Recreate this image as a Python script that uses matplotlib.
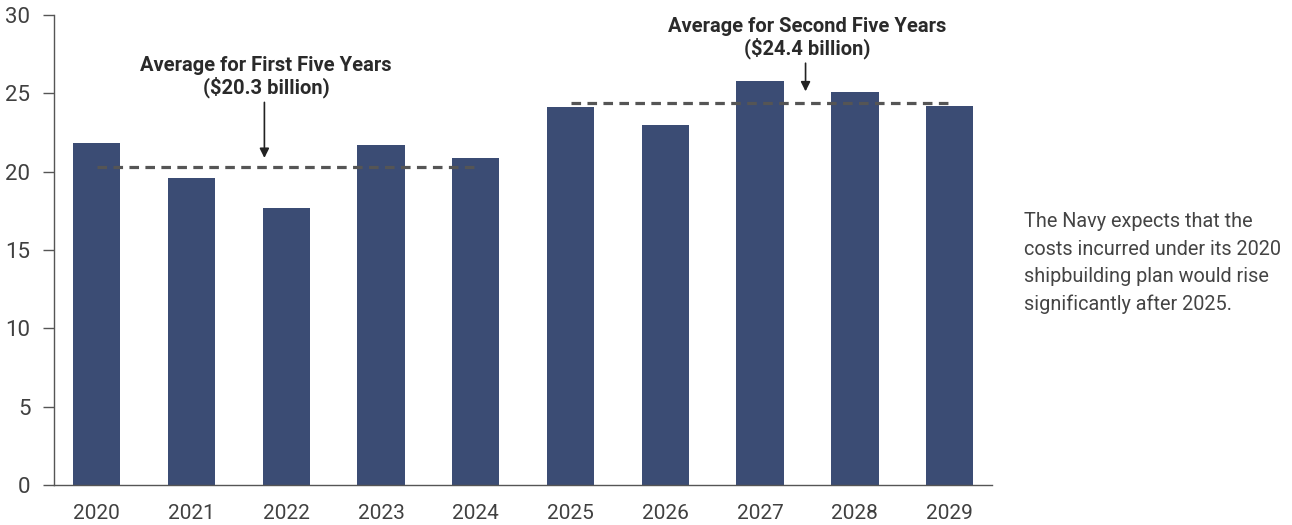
import matplotlib.pyplot as plt
import numpy as np

plt.rcParams['font.family'] = ['Roboto', 'DejaVu Sans']

# data
years = ['2020', '2021', '2022', '2023', '2024', '2025', '2026', '2027', '2028', '2029']
costs = [21.8, 19.6, 17.7, 21.7, 20.9, 24.1, 23.0, 25.8, 25.1, 24.2]
avg_first = 20.3
avg_second = 24.4
yticks = [0, 5, 10, 15, 20, 25, 30]

bar_color = '#3b4c74'
text_color = '#404040'

fig = plt.figure(figsize=(12.92, 5.25), dpi=100)
ax = fig.add_axes([0.0418, 0.0762, 0.7262, 0.8952])

x = np.arange(len(years))
ax.bar(x, costs, width=0.5, color=bar_color, zorder=2)

# average lines
ax.plot([x[0], x[4]], [avg_first, avg_first], ls=(0, (3, 2)), lw=2.3, color='#555555', zorder=3)
ax.plot([x[5], x[9]], [avg_second, avg_second], ls=(0, (3, 2)), lw=2.3, color='#555555', zorder=3)

# annotations
ax.annotate('', xy=(1.77, 20.7), xytext=(1.77, 24.6),
            arrowprops=dict(arrowstyle='-|>', color='#222222', lw=1.2, mutation_scale=14))
ax.text(1.79, 24.7, 'Average for First Five Years\n($20.3 billion)', ha='center', va='bottom',
        fontsize=14.5, fontweight='semibold', color='#2a2a2a', linespacing=1.1)
ax.annotate('', xy=(7.48, 24.95), xytext=(7.48, 27.1),
            arrowprops=dict(arrowstyle='-|>', color='#222222', lw=1.2, mutation_scale=14))
ax.text(7.5, 27.2, 'Average for Second Five Years\n($24.4 billion)', ha='center', va='bottom',
        fontsize=14.5, fontweight='semibold', color='#2a2a2a', linespacing=1.1, clip_on=False)

ax.set_xlim(-0.45, 9.45)
ax.set_ylim(0, 30)
ax.set_xticks(x)
ax.set_xticklabels(years)
ax.set_yticks(yticks)
ax.tick_params(axis='x', length=0, pad=14, labelsize=15, labelcolor=text_color)
ax.tick_params(axis='y', length=8, width=1, color='#555555', pad=9, labelsize=16, labelcolor=text_color)
for s in ['top', 'right']:
    ax.spines[s].set_visible(False)
for s in ['left', 'bottom']:
    ax.spines[s].set_color('#555555')
    ax.spines[s].set_linewidth(1)

fig.text(0.7926, 0.499, 'The Navy expects that the\ncosts incurred under its 2020\nshipbuilding plan would rise\nsignificantly after 2025.',
         ha='left', va='center', fontsize=14.3, color='#444444', linespacing=1.55)

fig.savefig('out.png', dpi=100)
